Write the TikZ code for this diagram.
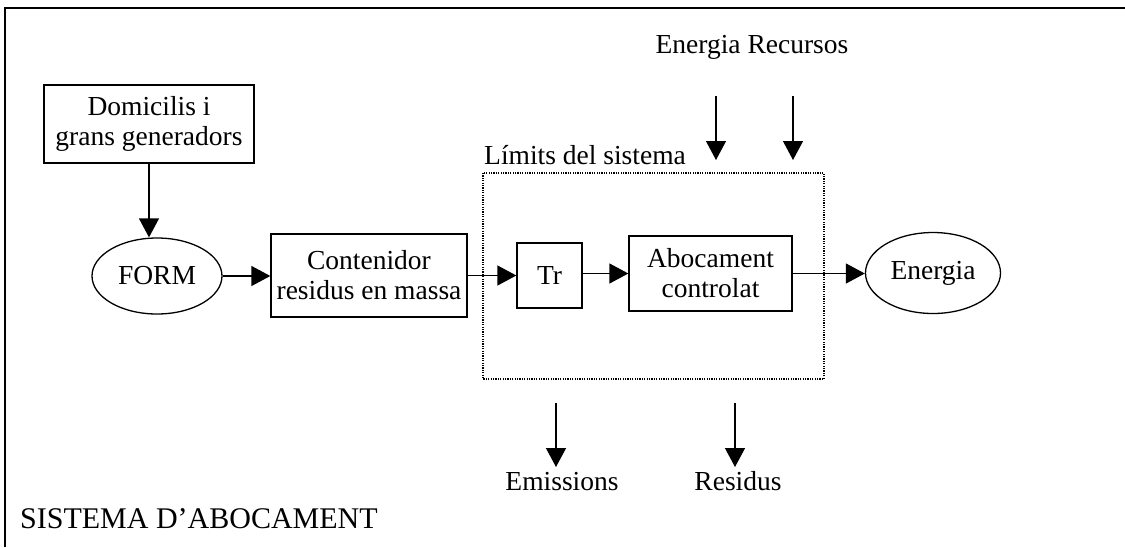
\documentclass[tikz,border=0pt]{standalone}
\usepackage{fontspec}
\setmainfont{Liberation Serif}
\usetikzlibrary{arrows.meta,shapes.geometric}
\begin{document}
\begin{tikzpicture}[x=1pt,y=-1pt,
  every node/.style={font=\fontsize{27.5}{30}\selectfont,inner sep=0pt},
  box/.style={draw,line width=1.3pt,align=center},
  oval/.style={draw,ellipse,line width=1.3pt},
  flow/.style={line width=1.3pt,-{Triangle[length=19pt,width=20pt]}},
  sysbound/.style={line width=1.1pt,dash pattern=on 1.2pt off 1.2pt}]
\useasboundingbox (0,0) rectangle (1125,547);
% outer frame (top and left edges)
\draw[line width=1.3pt] (5,547) -- (5,8) -- (1125,8);
% system boundary
\draw[sysbound] (483,173) rectangle (824,379);
\node[anchor=base west] (lim) at (484,164) {Límits del sistema};
% process nodes
\node[box,minimum width=210pt,minimum height=78pt] (dom) at (149,124) {Domicilis i\\grans generadors};
\node[oval,minimum width=130pt,minimum height=76pt] (form) at (157,276) {FORM};
\node[box,minimum width=196pt,minimum height=83pt] (cont) at (369,275.5) {Contenidor\\residus en massa};
\node[box,minimum width=65pt,minimum height=65pt] (tr) at (549.5,275.5) {Tr};
\node[box,minimum width=163pt,minimum height=75pt] (abo) at (710.5,273.5) {Abocament\\controlat};
\node[oval,minimum width=135pt,minimum height=81pt] (ener) at (933,273) {Energia};
% main flow
\draw[flow] (dom.south) -- (dom.south |- form.north);
\draw[flow] (form.east) -- (form.east -| cont.west);
\draw[flow] (cont.east) -- (cont.east -| tr.west);
\draw[flow] (tr.east |- abo.west) -- (abo.west);
\draw[flow] (abo.east) -- (abo.east -| ener.west);
% inputs
\node[anchor=base] (inp) at (752,53) {Energia Recursos};
\coordinate (e1) at (716,96); \coordinate (e2) at (716,160);
\coordinate (r1) at (793,96); \coordinate (r2) at (793,160);
\draw[flow] (e1) -- (e2);
\draw[flow] (r1) -- (r2);
% outputs
\coordinate (m1) at (556,403); \coordinate (m2) at (556,467);
\coordinate (s1) at (735,403); \coordinate (s2) at (735,467);
\draw[flow] (m1) -- (m2);
\draw[flow] (s1) -- (s2);
\node[anchor=base] (emi) at (562,490) {Emissions};
\node[anchor=base] (res) at (738,490) {Residus};
% title
\node[anchor=base west,font=\fontsize{30}{34}\selectfont] (title) at (20,528) {SISTEMA D’ABOCAMENT};
\end{tikzpicture}
\end{document}
